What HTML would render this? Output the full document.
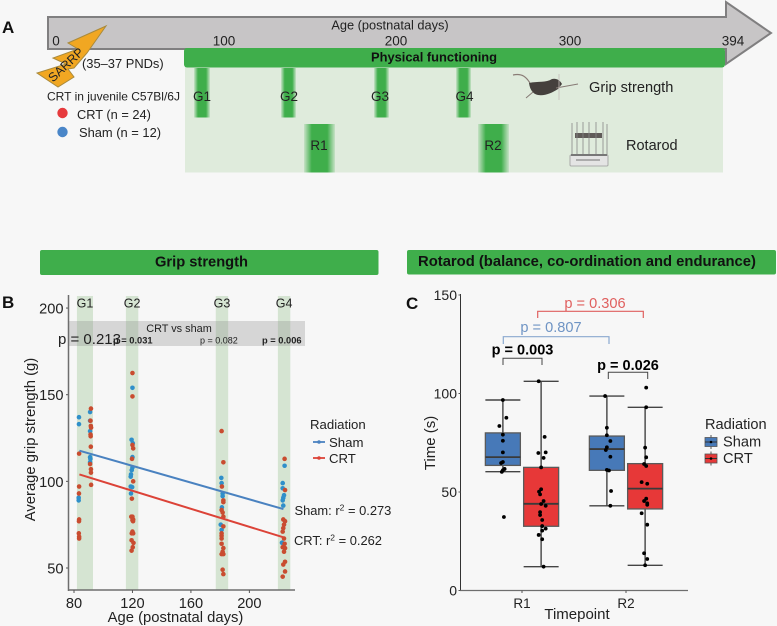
<!DOCTYPE html>
<html lang="en">
<head>
<meta charset="utf-8">
<title>CRT grip strength and rotarod figure</title>
<style>
html,body{margin:0;padding:0;background:#f7f7f7;width:777px;height:626px;overflow:hidden}
svg{display:block;font-family:"Liberation Sans",Arial,sans-serif;fill:#222}
</style>
</head>
<body>
<svg id="fig" width="777" height="626" viewBox="0 0 777 626" xmlns="http://www.w3.org/2000/svg">
<defs>
<linearGradient id="barFade" x1="0" x2="1" y1="0" y2="0">
<stop offset="0" stop-color="#3fae4b" stop-opacity=".15"/>
<stop offset=".25" stop-color="#3fae4b"/>
<stop offset=".75" stop-color="#3fae4b"/>
<stop offset="1" stop-color="#3fae4b" stop-opacity=".15"/>
</linearGradient>
</defs>
<rect width="777" height="626" fill="#f7f7f7"/>

<!-- Panel A -->
<g>
<text x="2" y="33" font-size="17" font-weight="bold" fill="#111">A</text>
<path d="M48 17H726V2L771 33L726 64V49H48Z" fill="#c7c5c6" stroke="#807f80" stroke-width="2"/>
<text x="390" y="29.500" font-size="12.800" text-anchor="middle">Age (postnatal days)</text>
<text x="56" y="45.500" font-size="13.500" text-anchor="middle">0</text>
<text x="224" y="45.500" font-size="13.500" text-anchor="middle">100</text>
<text x="396" y="45.500" font-size="13.500" text-anchor="middle">200</text>
<text x="570" y="45.500" font-size="13.500" text-anchor="middle">300</text>
<text x="733" y="45.500" font-size="13.500" text-anchor="middle">394</text>
<rect x="185" y="67" width="538" height="105.500" fill="#dfebdc"/>
<rect x="184" y="48" width="541" height="19.500" rx="3" fill="#3fae4b"/>
<text x="434" y="61.500" font-size="12.900" font-weight="bold" text-anchor="middle" fill="#111">Physical functioning</text>
<rect x="194" y="68" width="16" height="49.500" fill="url(#barFade)"/>
<rect x="281" y="68" width="15" height="49.500" fill="url(#barFade)"/>
<rect x="374" y="68" width="15" height="49.500" fill="url(#barFade)"/>
<rect x="456" y="68" width="15" height="49.500" fill="url(#barFade)"/>
<rect x="304" y="124" width="31" height="48.500" fill="url(#barFade)"/>
<rect x="478" y="124" width="31" height="48.500" fill="url(#barFade)"/>
<text x="202" y="101" font-size="13.500" text-anchor="middle">G1</text>
<text x="289" y="101" font-size="13.500" text-anchor="middle">G2</text>
<text x="380" y="101" font-size="13.500" text-anchor="middle">G3</text>
<text x="464.500" y="101" font-size="13.500" text-anchor="middle">G4</text>
<text x="319" y="150" font-size="13.500" text-anchor="middle">R1</text>
<text x="493" y="150" font-size="13.500" text-anchor="middle">R2</text>
<path d="M106 26L68 43L78 49L53 58L66 64L37 73L58 87L74 77L68 69L74 68L87 53Z" fill="#f1a722" stroke="#a98a3c" stroke-width="1"/>
<text x="66" y="69" font-size="12.500" text-anchor="middle" transform="rotate(-43 66 65)" fill="#222">SARRP</text>
<text x="82" y="68" font-size="12.900">(35–37 PNDs)</text>
<text x="47" y="100.500" font-size="12">CRT in juvenile C57Bl/6J</text>
<circle cx="62.500" cy="113" r="5.200" fill="#e63a3d"/>
<text x="77" y="119" font-size="12.800">CRT (n = 24)</text>
<circle cx="62.500" cy="132" r="5.200" fill="#4a86c8"/>
<text x="79" y="137" font-size="12.900">Sham (n = 12)</text>
<g>
<path d="M513 75C522 73 527 77 531 85" fill="none" stroke="#8a7c76" stroke-width="1.200"/>
<path d="M529 83C538 81 546 83 552 79C556 78 560 80 562 84L558 89C552 93 545 96 538 95C533 94 530 90 529 83Z" fill="#45403d"/>
<path d="M533 92L526 98M556 88L578 84" stroke="#867a75" stroke-width="1" fill="none"/>
<path d="M559 74V100" stroke="#c4bcb8" stroke-width=".8"/>
</g>
<text x="589" y="92" font-size="14.600">Grip strength</text>
<g>
<rect x="570" y="155" width="38" height="11" rx="1" fill="#e4e4e4" stroke="#9b9b9b" stroke-width=".8"/>
<rect x="575" y="133" width="27" height="5" fill="#5f5a58"/>
<path d="M572 123V155M577 122V155M583 122V155M589 122V155M596 122V155M603 122V155M607 124V155" stroke="#888" stroke-width=".8" fill="none"/>
<path d="M571 155H607" stroke="#777" stroke-width="2"/>
<path d="M576 160H600" stroke="#999" stroke-width="1.500"/>
</g>
<text x="626" y="150" font-size="14.500">Rotarod</text>
</g>

<rect x="40" y="250" width="338.500" height="25" rx="2" fill="#3fae4b"/>
<text x="201.500" y="266.500" font-size="14.700" font-weight="bold" text-anchor="middle" fill="#111">Grip strength</text>
<rect x="407" y="250" width="369" height="24.500" rx="2" fill="#3fae4b"/>
<text x="587" y="266" font-size="14.800" font-weight="bold" text-anchor="middle" fill="#111">Rotarod (balance, co-ordination and endurance)</text>

<text x="2" y="308" font-size="17" font-weight="bold" fill="#111">B</text>
<text x="406" y="309" font-size="17" font-weight="bold" fill="#111">C</text>

<g id="panelB"></g>
<g id="panelC"></g>
</svg>

<script>
// Panel B data
const gripBandLabels = ['G1','G2','G3','G4'];
const gripBandStart = [82, 115.5, 177, 219.500];
const gripBandEnd = [93, 124, 185.500, 228];
const gripXTicks = [80, 120, 160, 200];
const gripYTicks = [50, 100, 150, 200];
const shamDays = [83.4,83.4,91,91,91,91,91.2,91,83.2,83.2,120,119.4,120.2,120,120,119.5,119,118.8,118.8,119.8,119,180.8,181,181.7,181.7,181.2,180.4,181,224.1,222.8,222.8,223.7,223.2,222.8,223.2,222.3];
const shamGrip = [137,133,140,135,129,114,113,111,90.5,89,154,124,122,114,108,106.5,104,102.7,97,96.7,93,102,99,93,91.5,85,75,72,109,99,96,92,90.5,89,86,64.6];
const crtDays = [91.6,91.3,91.5,91.7,91.3,91.4,91.5,83.5,91,91.6,91.6,91.7,83.5,83.4,83.5,83.4,83.3,83.5,83.5,120,120,120,120.5,119.7,120.5,119.6,119.2,120,120.5,120,120.4,120,119.5,120.5,119.4,120.7,120.2,119.4,181,182.2,181.2,182.2,182.2,181,181.7,182.2,182.2,181,181,181,181,182.2,181.7,181,182.2,181.7,182.2,224.1,224.4,223.2,224.4,223.7,223.2,222.8,223.7,224.1,222.8,224.4,223.7,224.4,223.2,224.4,222.8];
const crtGrip = [142,135,132,131,127,126,120,116,110,107,105,98,97,93,78,77,70,68,67,162.5,149,121,119,113,100,90,79.6,79.6,78,77.6,77,71,70,70,66,64.5,62,60,129,111,97,89,88,83.5,82,79.6,74,70,68.6,67,64,61.5,59.4,58,58,49,46.5,113,95,78,77,75,73,71,67,64,62,61.5,59.4,53.6,52,48,45];
const trendDays = [83.7, 223.3];
const shamTrend = [117.7, 84];
const crtTrend = [104, 67.7];

// Panel C data
const timepoints = ['R1','R2'];
const timeTicks = [0, 50, 100, 150];
// five-number summaries: low whisker, q1, median, q3, high whisker
const shamStats = [[60.3,63.5,67.7,80,96.7],[43,61,71.8,78.4,98.7]];
const crtStats = [[12.1,32.6,44,62.5,106.2],[12.8,41.4,51.7,64.4,93]];
const shamR1Time = [96.7,87.7,83.5,79.1,76,70.1,65.2,64.7,61.7,61,60.2,37.3];
const shamR1Jitter = [0,.1,-.1,0,0,0,0,-.05,.05,0,-.03,.03];
const crtR1Time = [106.2,78,69.8,70.1,67.3,62.5,51.4,50.2,48.8,45.4,43.9,43,39.8,38.3,35.8,32.7,31.4,30.4,28.2,26,12.1];
const crtR1Jitter = [-.07,.1,-.08,.13,.07,0,0,-.06,-.03,.07,0,.13,-.03,-.03,.03,.03,.13,.03,-.07,.03,.07];
const shamR2Time = [98.7,82.6,78.8,75.9,72.7,71.3,67.9,61.2,60.9,50.5,43];
const shamR2Jitter = [-.05,0,0,.1,0,-.03,.1,0,.06,.12,.1];
const crtR2Time = [103,93,72.5,67.6,64.2,63.2,55,54.2,46.6,45.4,44.3,43.5,39.2,33.4,18.9,16,12.8];
const crtR2Jitter = [.03,.03,0,.03,-.03,.03,-.1,.06,.03,-.03,.06,.06,-.1,.06,-.03,.06,0];

const NS = 'http://www.w3.org/2000/svg';
function mk(parent, tag, attrs, text) {
  const el = document.createElementNS(NS, tag);
  for (const k in attrs) el.setAttribute(k, attrs[k]);
  if (text !== undefined) el.textContent = text;
  parent.appendChild(el);
  return el;
}

// Panel B axis functions
const xB = d => 74 + (d - 80) * 1.4615;
const yB = v => 568 - (v - 50) * 1.733;
const B = document.getElementById('panelB');

gripBandLabels.forEach((lab, i) => {
  const band = mk(B, 'rect', {x: xB(gripBandStart[i]), y: 296, width: xB(gripBandEnd[i]) - xB(gripBandStart[i]), height: 294, fill: '#d5e4d2'});
  
  
  const t = mk(B, 'text', {x: (xB(gripBandStart[i]) + xB(gripBandEnd[i])) / 2, y: 307.500, 'font-size': 12.500, 'text-anchor': 'middle'}, lab);
  
  
});

const greyBand = mk(B, 'rect', {x: 69, y: 321, width: 236, height: 25, fill: '#8c8c8c', 'fill-opacity': .3});



const cmpTitle = mk(B, 'text', {x: 179, y: 332, 'font-size': 10.900, 'text-anchor': 'middle'}, 'CRT vs sham');


const p1 = mk(B, 'text', {x: 58, y: 344, 'font-size': 15}, 'p = 0.213');


const p2 = mk(B, 'text', {x: 113, y: 343.500, 'font-size': 9.300, 'font-weight': 'bold'}, 'p = 0.031');


const p3 = mk(B, 'text', {x: 200, y: 343.500, 'font-size': 9}, 'p = 0.082');


const p4 = mk(B, 'text', {x: 262, y: 343.500, 'font-size': 9.300, 'font-weight': 'bold'}, 'p = 0.006');



shamDays.forEach((d, i) => {
  const c = mk(B, 'circle', {cx: xB(d), cy: yB(shamGrip[i]), r: 2.300, fill: '#2f8fca'});
  
  
});
crtDays.forEach((d, i) => {
  const c = mk(B, 'circle', {cx: xB(d), cy: yB(crtGrip[i]), r: 2.300, fill: '#c94c30'});
  
  
});

const shamLine = mk(B, 'line', {x1: xB(trendDays[0]), y1: yB(shamTrend[0]), x2: xB(trendDays[1]), y2: yB(shamTrend[1]), stroke: '#4a82c0', 'stroke-width': 2});


const crtLine = mk(B, 'line', {x1: xB(trendDays[0]), y1: yB(crtTrend[0]), x2: xB(trendDays[1]), y2: yB(crtTrend[1]), stroke: '#dc4338', 'stroke-width': 2});



const bY = mk(B, 'line', {x1: 68.500, y1: 295, x2: 68.500, y2: 591, stroke: '#6e6e6e', 'stroke-width': 1.500});


const bX = mk(B, 'line', {x1: 68, y1: 590, x2: 295, y2: 590, stroke: '#6e6e6e', 'stroke-width': 1.500});



gripYTicks.forEach(v => {
  const tk = mk(B, 'line', {x1: 66, x2: 68, y1: yB(v), y2: yB(v), stroke: '#555'});
  
  
  const t = mk(B, 'text', {x: 63.500, y: yB(v) + 5.500, 'font-size': 14.600, 'text-anchor': 'end'}, v);
  
  
});
gripXTicks.forEach(d => {
  const tk = mk(B, 'line', {x1: xB(d), x2: xB(d), y1: 590, y2: 593, stroke: '#555'});
  
  
  const t = mk(B, 'text', {x: xB(d), y: 608, 'font-size': 14.600, 'text-anchor': 'middle'}, d);
  
  
});

const bXT = mk(B, 'text', {x: 175.500, y: 622, 'font-size': 14.800, 'text-anchor': 'middle'}, 'Age (postnatal days)');


const bYT = mk(B, 'text', {x: 0, y: 0, 'font-size': 14.800, 'text-anchor': 'middle', transform: 'translate(35 439.500) rotate(-90)'}, 'Average grip strength (g)');



const bLegT = mk(B, 'text', {x: 310, y: 429, 'font-size': 13.200}, 'Radiation');


[['Sham', 442, '#4a82c0'], ['CRT', 458, '#dc4338']].forEach(e => {
  const l = mk(B, 'line', {x1: 313, x2: 325, y1: e[1], y2: e[1], stroke: e[2], 'stroke-width': 1.800});
  
  
  const c = mk(B, 'circle', {cx: 319, cy: e[1], r: 1.800, fill: e[2]});
  
  
  const t = mk(B, 'text', {x: 329, y: e[1] + 5, 'font-size': 13.200}, e[0]);
  
  
});
[['Sham: r', ' = 0.273', 294.500, 515], ['CRT: r', ' = 0.262', 294, 545]].forEach(e => {
  const t = mk(B, 'text', {x: e[2], y: e[3], 'font-size': 12.900});
  
  
  mk(t, 'tspan', {}, e[0]);
  mk(t, 'tspan', {dy: -4.500, 'font-size': 8.500}, '2');
  mk(t, 'tspan', {dy: 4.500}, e[1]);
});

// Panel C axis functions
const xC = (cat, dodge) => 522 + 104 * cat + dodge * 104;
const yC = v => 590.500 - v * 1.970;
const C = document.getElementById('panelC');
const BOX_W = 35;

function drawBox(cat, dodge, stats, fill, name) {
  const cx = xC(cat, dodge);
  const g = mk(C, 'g', {});
  
  
  mk(g, 'line', {x1: cx, x2: cx, y1: yC(stats[4]), y2: yC(stats[0]), stroke: '#5a5a5a', 'stroke-width': 1.600});
  mk(g, 'line', {x1: cx - BOX_W / 2, x2: cx + BOX_W / 2, y1: yC(stats[4]), y2: yC(stats[4]), stroke: '#444', 'stroke-width': 1.400});
  mk(g, 'line', {x1: cx - BOX_W / 2, x2: cx + BOX_W / 2, y1: yC(stats[0]), y2: yC(stats[0]), stroke: '#444', 'stroke-width': 1.400});
  mk(g, 'rect', {x: cx - BOX_W / 2, y: yC(stats[3]), width: BOX_W, height: yC(stats[1]) - yC(stats[3]), fill: fill, stroke: '#5a5a5a', 'stroke-width': 1.300});
  mk(g, 'line', {x1: cx - BOX_W / 2, x2: cx + BOX_W / 2, y1: yC(stats[2]), y2: yC(stats[2]), stroke: '#3a3a3a', 'stroke-width': 1.800});
}
function drawPoints(cat, dodge, vals, jit) {
  vals.forEach((v, i) => {
    const c = mk(C, 'circle', {cx: xC(cat, dodge) + jit[i] * BOX_W, cy: yC(v), r: 1.900, fill: '#000'});
    
    
  });
}
const DODGE = 0.184;
timepoints.forEach((tp, i) => {
  drawBox(i, -DODGE, shamStats[i], '#4779b8', 'sham-box-' + tp);
  drawBox(i, DODGE, crtStats[i], '#e73838', 'crt-box-' + tp);
});
drawPoints(0, -DODGE, shamR1Time, shamR1Jitter);
drawPoints(0, DODGE, crtR1Time, crtR1Jitter);
drawPoints(1, -DODGE, shamR2Time, shamR2Jitter);
drawPoints(1, DODGE, crtR2Time, crtR2Jitter);

const cY = mk(C, 'line', {x1: 460.500, y1: 294, x2: 460.500, y2: 591, stroke: '#333', 'stroke-width': 1});


const cX = mk(C, 'line', {x1: 460, y1: 590.500, x2: 688, y2: 590.500, stroke: '#6e6e6e', 'stroke-width': 1.300});



timeTicks.forEach(v => {
  const tk = mk(C, 'line', {x1: 458.500, x2: 460.500, y1: yC(v), y2: yC(v), stroke: '#555'});
  
  
  const t = mk(C, 'text', {x: 457, y: yC(v) + 5, 'font-size': 14, 'text-anchor': 'end'}, v);
  
  
});
timepoints.forEach((tp, i) => {
  const tk = mk(C, 'line', {x1: xC(i, 0), x2: xC(i, 0), y1: 590.500, y2: 593, stroke: '#555'});
  
  
  const t = mk(C, 'text', {x: xC(i, 0), y: 608, 'font-size': 13.500, 'text-anchor': 'middle'}, tp);
  
  
});
const cXT = mk(C, 'text', {x: 577, y: 619, 'font-size': 15, 'text-anchor': 'middle'}, 'Timepoint');


const cYT = mk(C, 'text', {x: 0, y: 0, 'font-size': 15, 'text-anchor': 'middle', transform: 'translate(435 443) rotate(-90)'}, 'Time (s)');



[[503, 542, 358.300, 365, '#444', 1, 'p = 0.003', 522.500, 354.500, '#000', 14.500, 'bold'],
 [608.300, 647.700, 372.300, 379, '#444', 1, 'p = 0.026', 628, 370, '#000', 14.500, 'bold'],
 [503.300, 609, 336.700, 344, '#8aa9d0', 1.200, 'p = 0.807', 551, 332, '#6f94c4', 14.600, 'normal'],
 [537.700, 643.300, 311.300, 318, '#e0605f', 1.200, 'p = 0.306', 595, 308, '#e0605f', 14.600, 'normal']].forEach(b => {
  const br = mk(C, 'path', {d: 'M' + b[0] + ' ' + b[3] + 'V' + b[2] + 'H' + b[1] + 'V' + b[3], fill: 'none', stroke: b[4], 'stroke-width': b[5]});
  
  
  const t = mk(C, 'text', {x: b[7], y: b[8], 'font-size': b[10], 'font-weight': b[11], 'text-anchor': 'middle', style: 'fill:' + b[9]}, b[6]);
  
  
});

const cLegT = mk(C, 'text', {x: 705, y: 429, 'font-size': 14.600}, 'Radiation');


[['Sham', 442, '#4779b8'], ['CRT', 458.500, '#e73838']].forEach(e => {
  const k = mk(C, 'g', {});
  
  
  mk(k, 'line', {x1: 711, x2: 711, y1: e[1] - 7, y2: e[1] + 7, stroke: '#555'});
  mk(k, 'rect', {x: 705, y: e[1] - 4.500, width: 12, height: 9, fill: e[2], stroke: '#555', 'stroke-width': .8});
  mk(k, 'line', {x1: 705, x2: 717, y1: e[1], y2: e[1], stroke: '#333'});
  mk(k, 'circle', {cx: 711, cy: e[1], r: 1.300, fill: '#000'});
  const t = mk(C, 'text', {x: 723, y: e[1] + 4.500, 'font-size': 14.600}, e[0]);
  
  
});
</script>
</body>
</html>
